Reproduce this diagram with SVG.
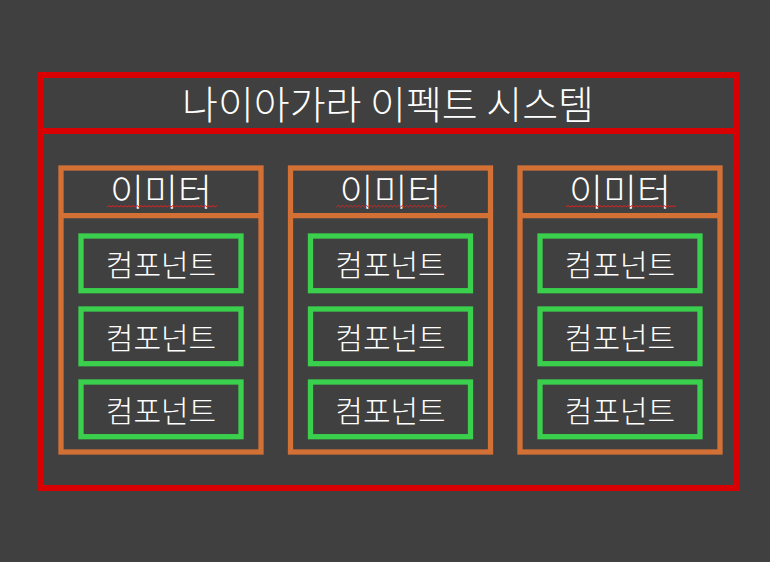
<svg xmlns="http://www.w3.org/2000/svg" width="770" height="562" viewBox="0 0 770 562">
<style>
.bg{fill:#404040}
.sys{fill:none;stroke:#d80000;stroke-width:6}
.em{fill:none;stroke:#d27035;stroke-width:5.3}
.cp{fill:none;stroke:#3acf4c;stroke-width:5.3}
text{fill:#ffffff;font-family:"Noto Sans CJK KR","Noto Sans",sans-serif;font-weight:300;text-anchor:middle;dominant-baseline:central}
.t1{font-size:39px}
.t2{font-size:37px}
.t3{font-size:30px}
.sq{fill:none;stroke:#e02020;stroke-width:1}
</style>
<defs>
<g id="emitter">
<rect class="em" x="0" y="0" width="200" height="284"/>
<line class="em" x1="0" y1="47.7" x2="200" y2="47.7"/>
<text class="t2" x="100" y="22">이미터</text>
<path class="sq" d="M46 39 l2 -1.5 l2 1.5 l2 -1.5 l2 1.5 l2 -1.5 l2 1.5 l2 -1.5 l2 1.5 l2 -1.5 l2 1.5 l2 -1.5 l2 1.5 l2 -1.5 l2 1.5 l2 -1.5 l2 1.5 l2 -1.5 l2 1.5 l2 -1.5 l2 1.5 l2 -1.5 l2 1.5 l2 -1.5 l2 1.5 l2 -1.5 l2 1.5 l2 -1.5 l2 1.5 l2 -1.5 l2 1.5 l2 -1.5 l2 1.5 l2 -1.5 l2 1.5 l2 -1.5 l2 1.5 l2 -1.5 l2 1.5 l2 -1.5 l2 1.5 l2 -1.5 l2 1.5 l2 -1.5 l2 1.5 l2 -1.5 l2 1.5 l2 -1.5 l2 1.5 l2 -1.5 l2 1.5 l2 -1.5 l2 1.5 l2 -1.5 l2 1.5 l2 -1.5"/>
</g>
<g id="comp">
<rect class="cp" x="0" y="0" width="160" height="54.7"/>
<text class="t3" x="80" y="26.5">컴포넌트</text>
</g>
</defs>
<rect class="bg" x="0" y="0" width="770" height="562"/>
<g id="system">
<rect class="sys" x="40" y="75" width="696" height="413"/>
<line class="sys" x1="40" y1="131" x2="736" y2="131"/>
<text class="t1" x="388" y="102">나이아가라 이펙트 시스템</text>
</g>
<g id="emitter1">
<use href="#emitter" x="61" y="168"/>
<use id="comp1a" href="#comp" x="81" y="236"/>
<use id="comp1b" href="#comp" x="81" y="309"/>
<use id="comp1c" href="#comp" x="81" y="382"/>
</g>
<g id="emitter2">
<use href="#emitter" x="290.5" y="168"/>
<use id="comp2a" href="#comp" x="310.5" y="236"/>
<use id="comp2b" href="#comp" x="310.5" y="309"/>
<use id="comp2c" href="#comp" x="310.5" y="382"/>
</g>
<g id="emitter3">
<use href="#emitter" x="520" y="168"/>
<use id="comp3a" href="#comp" x="540" y="236"/>
<use id="comp3b" href="#comp" x="540" y="309"/>
<use id="comp3c" href="#comp" x="540" y="382"/>
</g>
<g id="connectors"/>
</svg>
